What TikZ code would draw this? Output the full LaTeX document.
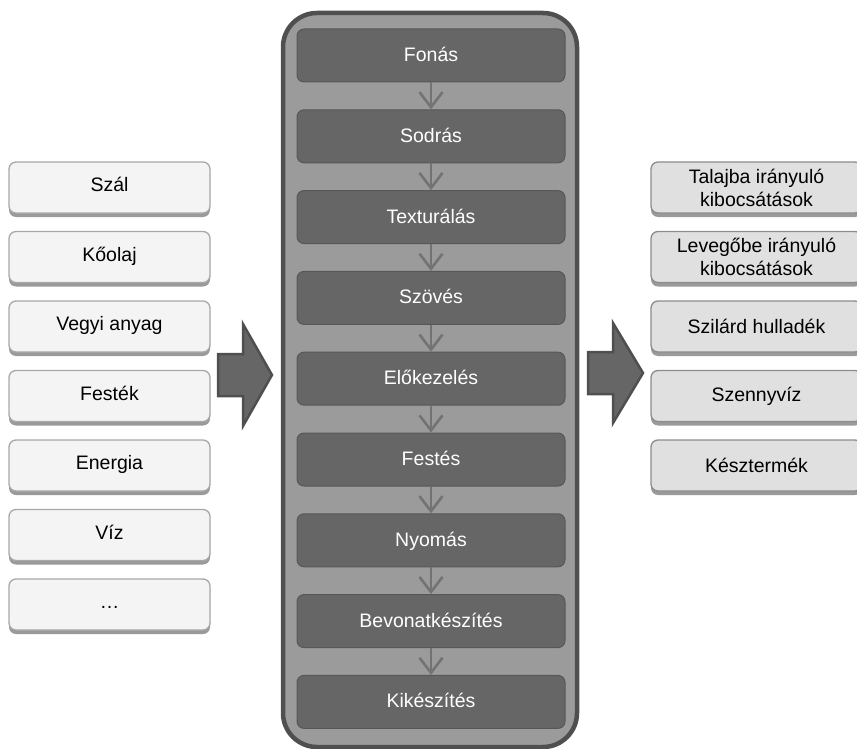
\documentclass[tikz,border=0pt]{standalone}
\usepackage{fontspec}
\setmainfont{Liberation Sans}
\usepackage{xcolor}
\usetikzlibrary{shapes,arrows,arrows.meta,positioning,shadows}

\definecolor{infill}{HTML}{F4F4F4}
\definecolor{inline}{HTML}{A8A8A8}
\definecolor{outfill}{HTML}{E0E0E0}
\definecolor{outline}{HTML}{8C8C8C}
\definecolor{shadowgray}{HTML}{9A9A9A}
\definecolor{procfill}{HTML}{9B9B9B}
\definecolor{procline}{HTML}{4F4F4F}
\definecolor{stepfill}{HTML}{666666}
\definecolor{stepline}{HTML}{575757}
\definecolor{flowgray}{HTML}{737373}

\begin{document}
\begin{tikzpicture}[x=1pt,y=-1pt,
    boxfont/.style={font=\fontsize{19.5}{23}\selectfont},
    inbox/.style={boxfont, draw=inline, fill=infill, line width=1.3pt,
        rounded corners=7pt, minimum width=201pt, minimum height=51pt,
        text height=14pt, text depth=6pt,
        drop shadow={shadow xshift=0pt, shadow yshift=-4pt, fill=shadowgray, opacity=1}},
    outbox/.style={boxfont, draw=outline, fill=outfill, line width=1.3pt,
        rounded corners=7pt, minimum width=211pt, minimum height=51pt, align=center,
        drop shadow={shadow xshift=0pt, shadow yshift=-4pt, fill=shadowgray, opacity=1}},
    stepbox/.style={boxfont, draw=stepline, fill=stepfill, line width=1pt,
        rounded corners=7pt, minimum width=268pt, minimum height=53pt,
        text=white, text height=12pt, text depth=0pt},
    flow/.style={draw=flowgray, line width=2.6pt, -{Straight Barb[length=15pt,width=23pt]}},
    bigarrow/.style={fill=stepfill, draw=procline, line width=2.5pt}]
    \useasboundingbox (0,0) rectangle (857,749);

    % Inputs
    \begin{scope}
        \foreach \i/\t in {1/Szál, 2/Kőolaj, 3/Vegyi anyag, 4/Festék,
                           5/Energia, 6/Víz, 7/\ldots} {
            \node[inbox] (in\i) at (109.5, 187.5+69.5*\i-69.5) {\t};
        }
    \end{scope}

    % Process
    \begin{scope}
        \draw[line width=4.5pt, draw=procline, fill=procfill, rounded corners=34pt]
            (283,13) rectangle (577,747);
        \foreach \i/\t in {1/Fonás, 2/Sodrás, 3/Texturálás, 4/Szövés,
                           5/Előkezelés, 6/Festés, 7/Nyomás,
                           8/Bevonatkészítés, 9/Kikészítés} {
            \node[stepbox] (st\i) at (431, 55.5+80.8*\i-80.8) {\t};
        }
        \foreach \i [evaluate=\i as \j using int(\i+1)] in {1,...,8} {
            \draw[flow] (st\i) -- (st\j);
        }
    \end{scope}

    % Outputs
    \begin{scope}
        \foreach \i/\t in {1/Talajba irányuló\\kibocsátások,
                           2/Levegőbe irányuló\\kibocsátások,
                           3/Szilárd hulladék, 4/Szennyvíz, 5/Késztermék} {
            \node[outbox] (out\i) at (756.5, 187.5+69.5*\i-69.5) {\t};
        }
    \end{scope}

    % Big arrows
    \draw[bigarrow] (218,354) -- (243,354) -- (243,324) -- (272,375)
        -- (243,426) -- (243,396) -- (218,396) -- cycle;
    \draw[bigarrow] (588,352) -- (613,352) -- (613,323) -- (643,373)
        -- (613,423) -- (613,394) -- (588,394) -- cycle;
\end{tikzpicture}
\end{document}
